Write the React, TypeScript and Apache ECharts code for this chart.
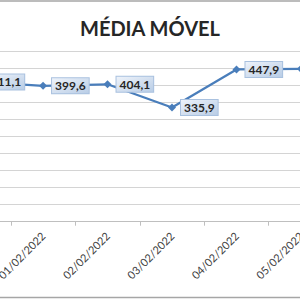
import React, { useEffect, useRef } from "react";
import * as echarts from "echarts";

const categories = ["31/01/2022", "01/02/2022", "02/02/2022", "03/02/2022", "04/02/2022", "05/02/2022"];
const values = [411.1, 399.6, 404.1, 335.9, 447.9, 449.5];
const titleText = "MÉDIA MÓVEL";

const OFFSET = 70;

export default function App() {
  const ref = useRef<HTMLDivElement>(null);
  useEffect(() => {
    if (!ref.current) return;
    const chart = echarts.init(ref.current, undefined, { renderer: "svg" });
    const labelBg = new echarts.graphic.LinearGradient(0, 0, 1, 1, [
      { offset: 0, color: "#eef3fa" },
      { offset: 1, color: "#b9cde6" },
    ]);
    chart.setOption({
      animation: false,
      backgroundColor: "#ffffff",
      title: {
        text: titleText,
        left: "center",
        top: 13,
        textStyle: { fontFamily: "Lato", fontWeight: "bold", fontSize: 20, color: "#262626" },
      },
      grid: { left: OFFSET - 60.4, width: 393.6, top: 51.7, height: 170, containLabel: false },
      xAxis: {
        type: "category",
        data: categories,
        boundaryGap: true,
        axisLine: { show: true, lineStyle: { color: "#bfbfbf", width: 1 } },
        axisTick: { show: true, length: 4, lineStyle: { color: "#bfbfbf" } },
        axisLabel: {
          rotate: 45,
          margin: 12,
          fontSize: 11,
          fontFamily: "Lato",
          color: "#404040",
          interval: 0,
        },
      },
      yAxis: {
        type: "value",
        min: 0,
        max: 500,
        interval: 50,
        axisLine: { show: false },
        axisTick: { show: false },
        axisLabel: { show: false },
        splitLine: { show: true, lineStyle: { color: "#d4d4d4", width: 1 } },
      },
      series: [
        {
          type: "line",
          data: values,
          color: "#4a7ebb",
          lineStyle: { color: "#4a7ebb", width: 2.25 },
          itemStyle: { color: "#4a7ebb" },
          symbol: "diamond",
          symbolSize: 8,
          label: {
            show: true,
            position: "right",
            distance: 5,
            formatter: (p: any) => p.value.toFixed(1).replace(".", ","),
            fontFamily: "Lato",
            fontWeight: "bold",
            fontSize: 12,
            color: "#262626",
            backgroundColor: labelBg,
            borderColor: "#a9c1df",
            borderWidth: 1,
            padding: [1, 3],
            lineHeight: 13,
          },
        },
      ],
      graphic: [
        {
          type: "rect",
          shape: { x: OFFSET - 5, y: 1, width: 310, height: 296.5 },
          style: { fill: "none", stroke: "#a6a6a6", lineWidth: 1.5 },
          silent: true,
        },
      ],
    });
    return () => chart.dispose();
  }, []);
  return (
    <div style={{ position: "fixed", left: 0, top: 0, width: 300, height: 300, overflow: "hidden" }}>
      <div ref={ref} style={{ position: "absolute", left: -OFFSET, top: 0, width: 300 + 2 * OFFSET, height: 300 }} />
    </div>
  );
}
